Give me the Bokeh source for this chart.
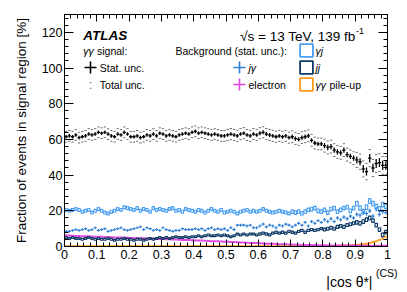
import numpy as np
from bokeh.plotting import figure
from bokeh.models import (Range1d, LinearAxis, FixedTicker, SingleIntervalTicker,
                          Label, Legend, LegendItem, CustomJSTickFormatter, Title)
from bokeh.embed import file_html
from bokeh.resources import INLINE

# ---------------- data ----------------
n_bins = 100
x_min, x_max = 0.0, 1.0

# gamma-gamma signal fraction [%]
signal = [
    61.5, 62.0, 61.5, 62.5, 61.0, 61.5, 62.0, 63.0, 62.5, 63.0,
    64.0, 63.5, 64.0, 63.0, 62.0, 61.5, 63.0, 62.5, 64.0, 63.0,
    61.5, 61.5, 62.0, 61.0, 61.5, 62.5, 62.0, 63.0, 62.0, 63.5,
    63.0, 62.0, 62.5, 62.0, 61.5, 62.5, 63.0, 63.5, 63.0, 64.0,
    64.5, 63.5, 64.0, 63.5, 63.0, 62.5, 63.0, 62.5, 62.0, 62.0,
    62.5, 63.0, 62.5, 62.0, 63.0, 63.5, 62.5, 62.0, 63.0, 62.5,
    63.5, 64.0, 63.0, 62.5, 62.0, 61.5, 62.0, 61.5, 62.0, 61.0,
    61.5, 60.5, 60.0, 61.0, 61.5, 62.0, 59.5, 58.0, 57.5, 57.5,
    56.5, 55.5, 56.0, 54.0, 53.0, 52.5, 54.0, 51.5, 50.5, 49.5,
    48.5, 47.5, 43.5, 42.0, 49.5, 44.0, 46.5, 47.0, 45.5, 45.5]
signal_stat = [
    1.0, 1.0, 1.0, 1.0, 1.0, 1.0, 1.0, 1.0, 1.0, 1.0,
    1.0, 1.0, 1.0, 1.0, 1.0, 1.0, 1.0, 1.0, 1.0, 1.0,
    1.0, 1.0, 1.0, 1.0, 1.0, 1.0, 1.0, 1.0, 1.0, 1.0,
    1.0, 1.0, 1.0, 1.0, 1.0, 1.0, 1.0, 1.0, 1.0, 1.0,
    1.0, 1.0, 1.0, 1.0, 1.0, 1.0, 1.0, 1.0, 1.0, 1.0,
    1.0, 1.0, 1.0, 1.0, 1.0, 1.0, 1.0, 1.0, 1.0, 1.0,
    1.1, 1.1, 1.1, 1.1, 1.1, 1.1, 1.1, 1.1, 1.1, 1.1,
    1.2, 1.2, 1.2, 1.2, 1.2, 1.2, 1.2, 1.2, 1.2, 1.2,
    1.5, 1.5, 1.5, 1.5, 1.5, 1.5, 1.5, 1.5, 1.5, 1.5,
    2.0, 2.0, 2.2, 2.2, 2.4, 2.4, 2.5, 2.5, 2.5, 2.5]
signal_total = [
    3.0, 3.0, 3.0, 3.0, 3.0, 3.0, 3.0, 3.0, 3.0, 3.0,
    3.0, 3.0, 3.0, 3.0, 3.0, 3.0, 3.0, 3.0, 3.0, 3.0,
    3.0, 3.0, 3.0, 3.0, 3.0, 3.0, 3.0, 3.0, 3.0, 3.0,
    3.0, 3.0, 3.0, 3.0, 3.0, 3.0, 3.0, 3.0, 3.0, 3.0,
    3.0, 3.0, 3.0, 3.0, 3.0, 3.0, 3.0, 3.0, 3.0, 3.0,
    3.1, 3.1, 3.1, 3.1, 3.1, 3.1, 3.1, 3.1, 3.1, 3.1,
    3.1, 3.1, 3.1, 3.1, 3.1, 3.1, 3.1, 3.1, 3.1, 3.1,
    3.3, 3.3, 3.3, 3.3, 3.3, 3.3, 3.3, 3.3, 3.3, 3.3,
    3.6, 3.6, 3.6, 3.6, 3.6, 3.6, 3.6, 3.6, 3.6, 3.6,
    4.2, 4.3, 4.5, 4.6, 4.8, 4.8, 5.0, 5.0, 5.0, 5.0]

# gamma-j background [%]
gj = [
    20.5, 20.0, 20.5, 21.0, 20.5, 19.5, 20.0, 20.5, 19.0, 20.0,
    21.0, 20.0, 19.0, 18.5, 19.5, 20.0, 21.0, 20.5, 22.0, 21.5,
    21.0, 20.5, 21.5, 20.0, 21.0, 20.5, 19.5, 21.5, 20.5, 21.0,
    20.5, 20.0, 21.0, 21.5, 20.0, 20.5, 19.5, 21.0, 20.5, 20.0,
    19.5, 20.5, 20.0, 19.0, 20.0, 21.0, 20.0, 19.5, 20.5, 19.0,
    19.5, 20.0, 19.5, 18.5, 19.5, 20.0, 20.5, 19.5, 20.0, 19.5,
    20.0, 21.0, 20.0, 19.5, 19.0, 19.5, 20.0, 19.5, 19.0, 18.5,
    19.5, 19.0, 19.5, 18.5, 19.5, 20.5, 21.0, 21.5, 20.0, 19.5,
    20.5, 19.0, 21.0, 21.5, 19.5, 20.5, 21.5, 22.0, 20.0, 21.5,
    24.0, 21.5, 19.5, 22.0, 25.5, 24.0, 22.5, 21.0, 23.5, 22.5]
gj_err = [
    0.8, 0.8, 0.8, 0.8, 0.8, 0.8, 0.8, 0.8, 0.8, 0.8,
    0.8, 0.8, 0.8, 0.8, 0.8, 0.8, 0.8, 0.8, 0.8, 0.8,
    0.8, 0.8, 0.8, 0.8, 0.8, 0.8, 0.8, 0.8, 0.8, 0.8,
    0.8, 0.8, 0.8, 0.8, 0.8, 0.8, 0.8, 0.8, 0.8, 0.8,
    0.8, 0.8, 0.8, 0.8, 0.8, 0.8, 0.8, 0.8, 0.8, 0.8,
    0.8, 0.8, 0.8, 0.8, 0.8, 0.8, 0.8, 0.8, 0.8, 0.8,
    0.8, 0.8, 0.8, 0.8, 0.8, 0.8, 0.8, 0.8, 0.8, 0.8,
    1.0, 1.0, 1.0, 1.0, 1.0, 1.0, 1.0, 1.0, 1.0, 1.0,
    1.0, 1.0, 1.0, 1.0, 1.0, 1.0, 1.0, 1.0, 1.0, 1.0,
    1.3, 1.3, 1.3, 1.3, 1.3, 1.3, 1.3, 1.3, 1.3, 1.3]

# j-gamma background [%]
jg = [
    8.5, 8.5, 9.0, 9.5, 9.0, 9.5, 10.0, 9.0, 9.5, 10.5,
    9.0, 9.5, 10.0, 8.5, 9.0, 9.5, 10.0, 10.5, 9.5, 9.0,
    9.5, 10.0, 10.5, 11.0, 9.5, 10.5, 10.0, 9.0, 9.5, 9.0,
    10.5, 9.5, 9.0, 8.5, 9.0, 9.0, 10.0, 9.5, 9.5, 9.5,
    10.0, 9.5, 10.0, 9.0, 10.0, 10.5, 9.5, 10.0, 9.5, 10.0,
    9.0, 10.5, 9.5, 12.0, 12.0, 12.0, 11.5, 12.0, 10.5, 10.5,
    11.5, 12.5, 11.0, 12.0, 11.5, 10.5, 12.0, 11.5, 12.5, 12.0,
    11.0, 12.0, 13.0, 12.0, 13.5, 11.5, 14.0, 13.0, 14.5, 13.5,
    15.0, 14.0, 15.5, 14.0, 16.0, 15.0, 16.5, 15.5, 17.0, 16.0,
    18.0, 17.5, 19.0, 18.5, 20.0, 17.0, 21.0, 18.0, 19.5, 19.0]
jg_err = [
    0.7, 0.7, 0.7, 0.7, 0.7, 0.7, 0.7, 0.7, 0.7, 0.7,
    0.7, 0.7, 0.7, 0.7, 0.7, 0.7, 0.7, 0.7, 0.7, 0.7,
    0.7, 0.7, 0.7, 0.7, 0.7, 0.7, 0.7, 0.7, 0.7, 0.7,
    0.7, 0.7, 0.7, 0.7, 0.7, 0.7, 0.7, 0.7, 0.7, 0.7,
    0.7, 0.7, 0.7, 0.7, 0.7, 0.7, 0.7, 0.7, 0.7, 0.7,
    0.8, 0.8, 0.8, 0.8, 0.8, 0.8, 0.8, 0.8, 0.8, 0.8,
    0.8, 0.8, 0.8, 0.8, 0.8, 0.8, 0.8, 0.8, 0.8, 0.8,
    0.8, 0.8, 0.8, 0.8, 0.8, 0.8, 0.8, 0.8, 0.8, 0.8,
    1.0, 1.0, 1.0, 1.0, 1.0, 1.0, 1.0, 1.0, 1.0, 1.0,
    1.2, 1.2, 1.2, 1.2, 1.2, 1.2, 1.2, 1.2, 1.2, 1.2]

# j-j background [%]
jj = [
    5.0, 4.5, 5.0, 4.5, 4.5, 4.0, 4.5, 5.0, 4.5, 4.0,
    4.5, 4.0, 4.0, 4.5, 4.0, 3.5, 4.0, 4.0, 4.5, 4.0,
    4.0, 3.5, 4.0, 4.0, 3.5, 4.0, 4.5, 4.0, 4.5, 5.0,
    4.5, 5.0, 4.5, 5.0, 5.5, 5.0, 5.0, 5.5, 5.0, 5.5,
    5.5, 6.0, 5.5, 6.0, 6.5, 6.0, 6.0, 6.5, 6.0, 6.5,
    6.0, 5.5, 6.0, 7.0, 6.5, 7.0, 6.5, 7.0, 7.0, 6.5,
    7.0, 7.5, 7.0, 6.5, 7.5, 8.0, 7.5, 8.0, 7.5, 8.5,
    8.0, 7.5, 8.5, 9.0, 8.0, 9.0, 9.5, 9.0, 9.5, 10.0,
    9.5, 10.0, 10.5, 10.0, 11.0, 11.5, 11.0, 12.0, 12.5, 13.0,
    13.5, 13.0, 14.0, 15.0, 16.0, 14.5, 12.0, 9.5, 6.5, 8.0]
jj_err = [
    0.5, 0.5, 0.5, 0.5, 0.5, 0.5, 0.5, 0.5, 0.5, 0.5,
    0.5, 0.5, 0.5, 0.5, 0.5, 0.5, 0.5, 0.5, 0.5, 0.5,
    0.5, 0.5, 0.5, 0.5, 0.5, 0.5, 0.5, 0.5, 0.5, 0.5,
    0.5, 0.5, 0.5, 0.5, 0.5, 0.5, 0.5, 0.5, 0.5, 0.5,
    0.5, 0.5, 0.5, 0.5, 0.5, 0.5, 0.5, 0.5, 0.5, 0.5,
    0.5, 0.5, 0.5, 0.5, 0.5, 0.5, 0.5, 0.5, 0.5, 0.5,
    0.6, 0.6, 0.6, 0.6, 0.6, 0.6, 0.6, 0.6, 0.6, 0.6,
    0.6, 0.6, 0.6, 0.6, 0.6, 0.6, 0.6, 0.6, 0.6, 0.6,
    0.8, 0.8, 0.8, 0.8, 0.8, 0.8, 0.8, 0.8, 0.8, 0.8,
    1.0, 1.0, 1.0, 1.0, 1.0, 1.0, 1.0, 1.0, 1.0, 1.0]

# electron background [%]
electron = [
    6.2, 6.1, 6.0, 5.9, 5.9, 5.8, 5.7, 5.7, 5.6, 5.5,
    5.5, 5.4, 5.3, 5.3, 5.2, 5.1, 5.1, 5.0, 5.0, 4.9,
    4.8, 4.8, 4.7, 4.6, 4.6, 4.5, 4.4, 4.4, 4.3, 4.2,
    4.2, 4.1, 4.0, 3.9, 3.9, 3.8, 3.7, 3.6, 3.6, 3.5,
    3.4, 3.3, 3.3, 3.2, 3.1, 3.0, 2.9, 2.9, 2.8, 2.7,
    2.6, 2.5, 2.5, 2.4, 2.3, 2.2, 2.1, 2.0, 2.0, 1.9,
    1.8, 1.7, 1.6, 1.6, 1.5, 1.4, 1.3, 1.3, 1.2, 1.1,
    1.1, 1.0, 1.0, 0.9, 0.9, 0.8, 0.8, 0.8, 0.7, 0.7,
    0.7, 0.6, 0.6, 0.6, 0.6, 0.5, 0.5, 0.5, 0.5, 0.5,
    0.5, 0.5, 0.4, 0.4, 0.4, 0.4, 0.4, 0.4, 0.4, 0.4]

# gamma-gamma pile-up background [%]
pileup = [
    0.1, 0.1, 0.1, 0.1, 0.1, 0.1, 0.1, 0.1, 0.1, 0.1,
    0.1, 0.1, 0.1, 0.1, 0.1, 0.1, 0.1, 0.1, 0.1, 0.1,
    0.1, 0.1, 0.1, 0.1, 0.1, 0.1, 0.1, 0.1, 0.1, 0.1,
    0.1, 0.1, 0.1, 0.1, 0.1, 0.1, 0.1, 0.1, 0.1, 0.1,
    0.1, 0.1, 0.1, 0.1, 0.1, 0.1, 0.1, 0.1, 0.1, 0.1,
    0.1, 0.1, 0.1, 0.1, 0.1, 0.1, 0.1, 0.1, 0.1, 0.1,
    0.1, 0.1, 0.1, 0.1, 0.1, 0.1, 0.1, 0.1, 0.1, 0.1,
    0.1, 0.1, 0.1, 0.1, 0.1, 0.15, 0.15, 0.2, 0.2, 0.2,
    0.25, 0.3, 0.3, 0.35, 0.4, 0.45, 0.5, 0.6, 0.7, 0.8,
    0.9, 1.1, 1.3, 1.6, 2.0, 2.5, 3.0, 3.7, 4.5, 5.5]

x_ticks = [0, 0.1, 0.2, 0.3, 0.4, 0.5, 0.6, 0.7, 0.8, 0.9, 1]
x_tick_labels = ["0", "0.1", "0.2", "0.3", "0.4", "0.5", "0.6", "0.7", "0.8", "0.9", "1"]

# ---------------- style ----------------
FONT = "Liberation Sans"
C_SIG = "#000000"
C_TOT = "#707070"
C_GJ = "#4a9ff0"
C_JG = "#2f7fd6"
C_JJ = "#0f3a66"
C_EL = "#e045e0"
C_PU = "#ff9a1a"

edges = np.linspace(x_min, x_max, n_bins + 1)
xl = edges[:-1]
xr = edges[1:]
xc = 0.5 * (xl + xr)
bw = (x_max - x_min) / n_bins

p = figure(width=407, height=292, x_range=Range1d(0, 1), y_range=Range1d(0, 130),
           output_backend="svg", toolbar_location=None,
           min_border_left=64, min_border_right=20, min_border_top=14, min_border_bottom=46)
p.grid.visible = False
p.outline_line_color = "black"
p.outline_line_width = 1
p.background_fill_color = "white"
p.border_fill_color = "white"

def arr(a):
    return np.asarray(a, dtype=float)

# pile-up and electron (thin lines made of bin-wide markers)
p.segment(x0=xl, x1=xr, y0=arr(pileup), y1=arr(pileup), line_color=C_PU, line_width=2)
p.segment(x0=xl, x1=xr, y0=arr(electron), y1=arr(electron), line_color=C_EL, line_width=2)

# jj boxes
p.quad(left=xl + 0.12 * bw, right=xr - 0.12 * bw, bottom=arr(jj) - arr(jj_err), top=arr(jj) + arr(jj_err),
       fill_alpha=0, line_color=C_JJ, line_width=1.2)
# j gamma crosses
p.segment(x0=xl, x1=xr, y0=arr(jg), y1=arr(jg), line_color=C_JG, line_width=1.2)
p.segment(x0=xc, x1=xc, y0=arr(jg) - arr(jg_err), y1=arr(jg) + arr(jg_err), line_color=C_JG, line_width=1.2)
# gamma j boxes
p.quad(left=xl + 0.12 * bw, right=xr - 0.12 * bw, bottom=arr(gj) - arr(gj_err), top=arr(gj) + arr(gj_err),
       fill_alpha=0, line_color=C_GJ, line_width=1.2)

# signal: total uncertainty dashes
sig = arr(signal)
tot = arr(signal_total)
stat = arr(signal_stat)
p.segment(x0=xl + 0.15 * bw, x1=xr - 0.15 * bw, y0=sig + tot, y1=sig + tot, line_color=C_TOT, line_width=1)
p.segment(x0=xl + 0.15 * bw, x1=xr - 0.15 * bw, y0=sig - tot, y1=sig - tot, line_color=C_TOT, line_width=1)
# signal: stat crosses
p.segment(x0=xl, x1=xr, y0=sig, y1=sig, line_color=C_SIG, line_width=1.3)
p.segment(x0=xc, x1=xc, y0=sig - stat, y1=sig + stat, line_color=C_SIG, line_width=1.3)

# ---------------- axes ----------------
x_minor = list(np.linspace(0, 1, 51))
xt = FixedTicker(ticks=x_ticks, minor_ticks=x_minor)
yt = SingleIntervalTicker(interval=20, num_minor_ticks=5)

def style_axis(ax, major, minor):
    ax.axis_line_color = "black"
    ax.major_tick_line_color = "black"
    ax.minor_tick_line_color = "black"
    ax.major_tick_in = major
    ax.major_tick_out = 0
    ax.minor_tick_in = minor
    ax.minor_tick_out = 0
    ax.major_label_text_font = FONT
    ax.major_label_text_font_size = "12.5px"
    ax.major_label_text_color = "black"

xa = p.xaxis[0]
xa.ticker = xt
xa.major_label_overrides = {t: s for t, s in zip(x_ticks, x_tick_labels)}
style_axis(xa, 7, 4)
xa.major_label_standoff = 3

ya = p.yaxis[0]
ya.ticker = yt
style_axis(ya, 9, 4)
ya.major_label_standoff = 2
ya.axis_label = "Fraction of events in signal region [%]"
ya.axis_label_text_font = FONT
ya.axis_label_text_font_style = "normal"
ya.axis_label_text_color = "black"
ya.axis_label_text_font_size = "13.5px"
ya.axis_label_standoff = 10

blank = CustomJSTickFormatter(code="return ''")

top = LinearAxis(ticker=FixedTicker(ticks=x_ticks, minor_ticks=x_minor), formatter=blank)
style_axis(top, 7, 4)
top.major_label_text_font_size = "0px"
top.major_label_standoff = 0
p.add_layout(top, "above")

right = LinearAxis(ticker=SingleIntervalTicker(interval=20, num_minor_ticks=5), formatter=blank)
style_axis(right, 9, 4)
right.major_label_text_font_size = "0px"
right.major_label_standoff = 0
p.add_layout(right, "right")

# x-axis title: "|cos θ*|" with superscript "(CS)", right-aligned below the axis
p.add_layout(Title(text="(CS)", align="right", offset=-10, standoff=6,
                   text_font=FONT, text_font_size="10.5px", text_font_style="normal",
                   text_color="black"), "below")
p.add_layout(Title(text="|cos \u03b8*|", align="right", offset=15, standoff=-16,
                   vertical_align="top",
                   text_font=FONT, text_font_size="14px", text_font_style="normal",
                   text_color="black"), "below")

# ---------------- texts ----------------
def lab(text, x, y, size="10.5px", style="normal", align="left", baseline="middle", color="black"):
    p.add_layout(Label(x=x, y=y, x_units="screen", y_units="screen", text=text,
                       text_font=FONT, text_font_size=size, text_font_style=style,
                       text_align=align, text_baseline=baseline, text_color=color))

lab("ATLAS", 18.7, 211, size="13.5px", style="bold italic", baseline="alphabetic")
lab("\u221as = 13 TeV, 139 fb", 291, 210, size="13.5px", align="right", baseline="alphabetic")
lab("-1", 291.5, 216, size="9px", baseline="alphabetic")

lab("\u03b3\u03b3", 18.7, 196, style="italic")
lab("signal:", 32.5, 196)
lab("Stat. unc.", 35.3, 178.7)
lab(":", 26, 162, size="13px", align="center", color=C_TOT)
lab("Total unc.", 35.3, 162)
lab("Background (stat. unc.):", 111, 196)
lab("j\u03b3", 184, 178.7, style="italic")
lab("electron", 184, 162)
lab("\u03b3j", 251, 196, style="italic")
lab("jj", 251, 179, style="italic")
lab("\u03b3\u03b3", 251, 162, style="italic")
lab("pile-up", 265, 162)

# ---------------- legend glyphs (renderers with one NaN point: nothing drawn in the frame) ----------------
nan1 = [float("nan")]
g_sig = p.scatter(x=nan1, y=nan1, marker="cross", line_color=C_SIG, line_width=1.6)
g_jg = p.scatter(x=nan1, y=nan1, marker="cross", line_color=C_JG, line_width=1.6)
g_el = p.scatter(x=nan1, y=nan1, marker="cross", line_color=C_EL, line_width=1.6)
g_gj = p.quad(left=nan1, right=nan1, top=nan1, bottom=nan1, fill_alpha=0, line_color=C_GJ, line_width=1.8)
g_jj = p.quad(left=nan1, right=nan1, top=nan1, bottom=nan1, fill_alpha=0, line_color=C_JJ, line_width=1.8)
g_pu = p.quad(left=nan1, right=nan1, top=nan1, bottom=nan1, fill_alpha=0, line_color=C_PU, line_width=1.8)

def glyph_legend(rend, loc, box):
    leg = Legend(items=[LegendItem(label=" ", renderers=[rend])],
                 location=loc, glyph_width=box, glyph_height=box, label_height=box,
                 label_width=0, label_standoff=0, padding=0, margin=0, spacing=0,
                 border_line_alpha=0, background_fill_alpha=0, label_text_font_size="1px")
    p.add_layout(leg)

glyph_legend(g_sig, (11, 163.7), 30)
glyph_legend(g_jg, (160, 163.7), 30)
glyph_legend(g_el, (160, 147), 30)
glyph_legend(g_gj, (233.5, 187.7), 16)
glyph_legend(g_jj, (233.5, 170.7), 16)
glyph_legend(g_pu, (233.5, 154), 16)

open("out.html", "w").write(file_html(p, INLINE))
